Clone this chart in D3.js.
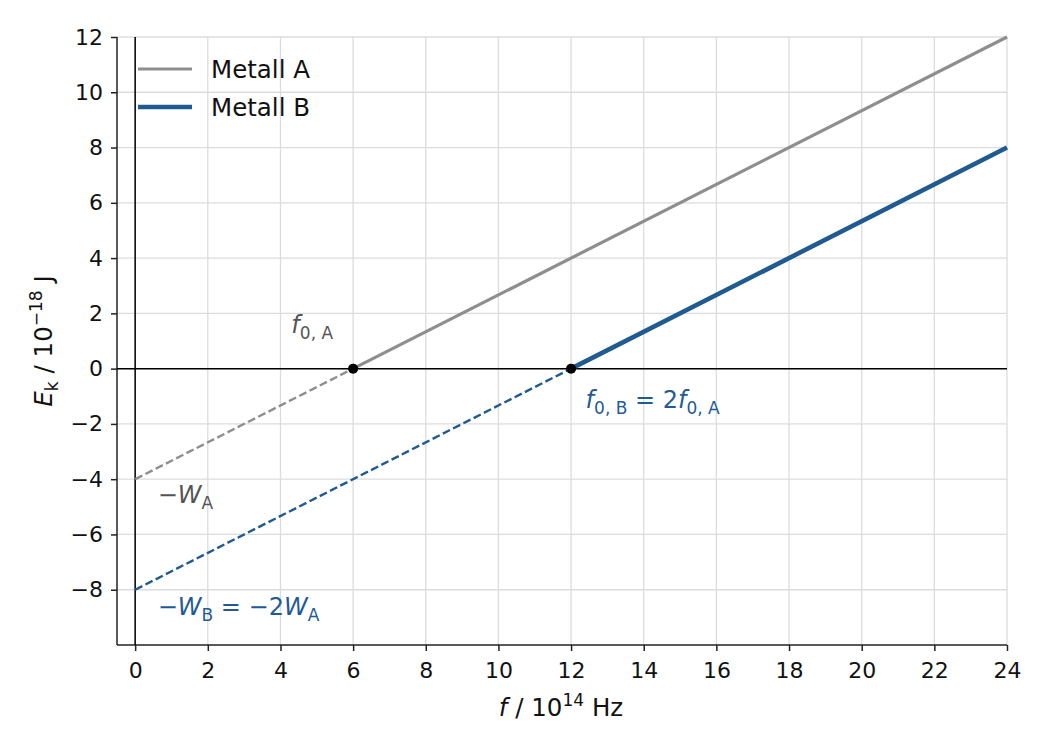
<!DOCTYPE html>
<html>
<head>
<meta charset="utf-8">
<script src="https://cdn.jsdelivr.net/npm/d3@7"></script>
<style>
  body { margin: 0; background: #fff; }
  text { font-family: "DejaVu Sans", sans-serif; }
</style>
</head>
<body>
<div id="chart"></div>
<script>
// data
var xTicks = [0, 2, 4, 6, 8, 10, 12, 14, 16, 18, 20, 22, 24];
var yTicks = [-8, -6, -4, -2, 0, 2, 4, 6, 8, 10, 12];
var metalA = { name: "Metall A", f0: 6, W: 4 };
var metalB = { name: "Metall B", f0: 12, W: 8 };
var fMax = 24;

var W = 1050, H = 750;
var margin = { top: 37, right: 43, bottom: 105, left: 117 };
var width = W - margin.left - margin.right,
  height = H - margin.top - margin.bottom;

var grey = "#8e8e8e", blue = "#1f5b91";
var greyText = "#555555", blueText = "#1f5b96";

var svg = d3.select("#chart").append("svg")
  .attr("width", W).attr("height", H)
  .append("g")
  .attr("transform", "translate(" + margin.left + "," + margin.top + ")");

var x = d3.scaleLinear().domain([-0.5, 24]).range([0, width]);
var y = d3.scaleLinear().domain([-10, 12]).range([height, 0]);

// grid
svg.append("g").selectAll("line").data(xTicks).enter().append("line")
  .attr("x1", d => x(d)).attr("x2", d => x(d))
  .attr("y1", 0).attr("y2", height)
  .attr("stroke", "#dcdcdc").attr("stroke-width", 1.3);
svg.append("g").selectAll("line").data(yTicks).enter().append("line")
  .attr("y1", d => y(d)).attr("y2", d => y(d))
  .attr("x1", 0).attr("x2", width)
  .attr("stroke", "#dcdcdc").attr("stroke-width", 1.3);

// axes
var fmt = d => d < 0 ? "\u2212" + (-d) : d;
var xAxis = svg.append("g").attr("transform", "translate(0," + height + ")")
  .call(d3.axisBottom(x).tickValues(xTicks).tickSize(6).tickPadding(11).tickFormat(fmt));
var yAxis = svg.append("g")
  .call(d3.axisLeft(y).tickValues(yTicks).tickSize(6).tickPadding(8).tickFormat(fmt));
[xAxis, yAxis].forEach(function(a) {
  a.select(".domain").attr("stroke", "#222").attr("stroke-width", 1.5);
  a.selectAll(".tick line").attr("stroke", "#222").attr("stroke-width", 1.5);
  a.selectAll(".tick text").attr("fill", "#111").style("font-size", "22px")
    .style("font-family", "DejaVu Sans, sans-serif");
});
xAxis.select(".domain").attr("d", "M0,0H" + width);
yAxis.select(".domain").attr("d", "M0,0V" + height);

// zero lines
svg.append("line").attr("x1", 0).attr("x2", width).attr("y1", y(0)).attr("y2", y(0))
  .attr("stroke", "#000").attr("stroke-width", 1.5);
svg.append("line").attr("x1", x(0)).attr("x2", x(0)).attr("y1", 0).attr("y2", height)
  .attr("stroke", "#000").attr("stroke-width", 1.5);

// lines
var line = d3.line().x(d => x(d[0])).y(d => y(d[1]));
function ek(m, f) { return m.W * f / m.f0 - m.W; }

function drawMetal(m, color, solidW) {
  svg.append("path").datum([[0, ek(m, 0)], [m.f0, 0]])
    .attr("d", line).attr("fill", "none").attr("stroke", color)
    .attr("stroke-width", 2.4).attr("stroke-dasharray", "8,3.5");
  svg.append("path").datum([[m.f0, 0], [fMax, ek(m, fMax)]])
    .attr("d", line).attr("fill", "none").attr("stroke", color)
    .attr("stroke-width", solidW);
}
drawMetal(metalA, grey, 3.2);
drawMetal(metalB, blue, 4.6);

svg.selectAll(".dot").data([metalA, metalB]).enter().append("circle")
  .attr("cx", d => x(d.f0)).attr("cy", y(0)).attr("r", 5).attr("fill", "#000");

// annotations
function label(px, py, color, parts) {
  var t = svg.append("text").attr("x", px).attr("y", py).attr("fill", color).style("font-size", "24px");
  parts.forEach(function(p) {
    var ts = t.append("tspan").text(p[0]);
    if (p[1] == "i") ts.style("font-style", "italic");
    if (p[1] == "sub") ts.style("font-size", "17px").attr("dy", 6);
    if (p[1] == "up") ts.attr("dy", -6);
  });
  return t;
}
label(x(4.3), y(1.3), greyText, [["f", "i"], ["0, A", "sub"]]);
label(x(12.4), y(-1.42), blueText, [["f", "i"], ["0, B", "sub"], [" = 2", "up"], ["f", "i"], ["0, A", "sub"]]);
label(x(0.62), y(-4.86), greyText, [["\u2212", ""], ["W", "i"], ["A", "sub"]]);
label(x(0.62), y(-8.91), blueText, [["\u2212", ""], ["W", "i"], ["B", "sub"], [" = \u22122", "up"], ["W", "i"], ["A", "sub"]]);

// legend
var legend = [[metalA.name, grey, 3.2], [metalB.name, blue, 4.6]];
legend.forEach(function(l, i) {
  var ly = 32 + i * 38;
  svg.append("line").attr("x1", 21).attr("x2", 75).attr("y1", ly).attr("y2", ly)
    .attr("stroke", l[1]).attr("stroke-width", l[2]);
  svg.append("text").attr("x", 94).attr("y", ly + 9).text(l[0])
    .style("font-size", "24.5px").attr("fill", "#111");
});

// axis labels
var xl = svg.append("text").attr("text-anchor", "middle")
  .attr("x", 561 - margin.left).attr("y", height + 71).style("font-size", "24.5px").attr("fill", "#111");
xl.append("tspan").text("f").style("font-style", "italic");
xl.append("tspan").text(" / 10");
xl.append("tspan").text("14").style("font-size", "17px").attr("dy", -10);
xl.append("tspan").text(" Hz").attr("dy", 10);

var yl = svg.append("text").attr("text-anchor", "middle")
  .attr("transform", "translate(-65," + (height / 2) + ") rotate(-90)")
  .style("font-size", "24.5px").attr("fill", "#111");
yl.append("tspan").text("E").style("font-style", "italic");
yl.append("tspan").text("k").style("font-size", "17px").attr("dy", 6);
yl.append("tspan").text(" / 10").attr("dy", -6);
yl.append("tspan").text("\u221218").style("font-size", "17px").attr("dy", -10);
yl.append("tspan").text(" J").attr("dy", 10);
</script>
</body>
</html>
